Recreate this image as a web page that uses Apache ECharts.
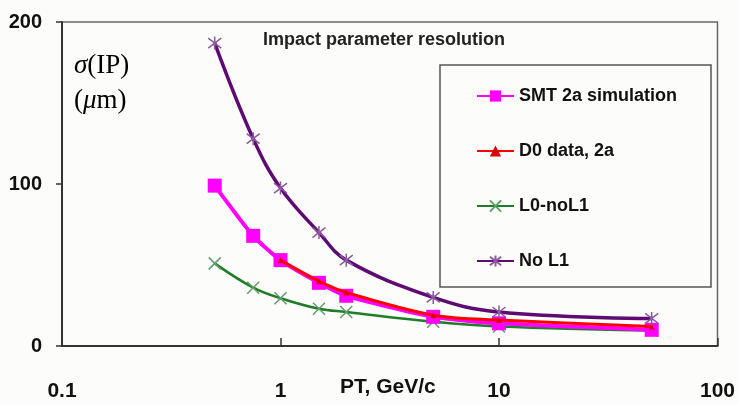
<!DOCTYPE html>
<html>
<head>
<meta charset="utf-8">
<script src="https://cdn.jsdelivr.net/npm/echarts@6/dist/echarts.min.js"></script>
<style>
  html, body { margin: 0; padding: 0; background: #fcfcfa; }
  #chart { width: 738px; height: 405px; }
</style>
</head>
<body>
<div id="chart"></div>
<script>
// momentum points (GeV/c)
const ptValues = [0.5, 0.75, 1, 1.5, 2, 5, 10, 50];
const ptD0 = [1, 1.5, 2, 5, 10, 50];

// impact parameter resolution (um)
const smtSim = [99, 68, 53, 39, 31, 18, 14, 10];
const d0Data = [53, 40, 33, 19, 16, 12];
const l0NoL1 = [51, 36, 29.5, 23, 21, 15, 12, 9.5];
const noL1 = [187, 128, 97.5, 70, 53, 30, 21, 17];

const xTicks = [0.1, 1, 10, 100];
const yTicks = [0, 100, 200];

const FONT = "'Liberation Sans', Arial, sans-serif";
const SERIF = "'Liberation Serif', 'Times New Roman', serif";

const pair = (xs, ys) => xs.map((x, i) => [x, ys[i]]);

const asterisk = "path://M0,0L10,10M10,0L0,10M5,-1.5L5,11.5";
const cross = "path://M0,0L10,10M10,0L0,10";

const chart = echarts.init(document.getElementById("chart"));

const option = {
  backgroundColor: "#fcfcfa",
  animation: false,
  grid: {
    left: 62,
    top: 22,
    right: 20,
    bottom: 59,
    show: true,
    borderColor: "#666",
    borderWidth: 1.5,
  },
  title: {
    text: "Impact parameter resolution",
    left: 263,
    top: 31,
    padding: 0,
    textStyle: {
      fontFamily: FONT,
      fontSize: 18,
      fontWeight: "bold",
      color: "#222",
    },
  },
  legend: {
    orient: "vertical",
    left: 476,
    top: 87,
    padding: 0,
    itemGap: 37,
    itemWidth: 37,
    itemHeight: 14,
    data: ["SMT 2a simulation", "D0 data, 2a", "L0-noL1", "No L1"],
    textStyle: {
      fontFamily: FONT,
      fontSize: 18,
      lineHeight: 18,
      fontWeight: "bold",
      color: "#111",
    },
  },
  xAxis: {
    type: "log",
    logBase: 10,
    min: 0.1,
    max: 100,
    axisLine: { lineStyle: { color: "#333", width: 2 } },
    axisTick: { show: true, inside: true, length: 8, lineStyle: { color: "#333", width: 1.5 } },
    minorTick: { show: false },
    splitLine: { show: false },
    axisLabel: {
      margin: 35,
      fontFamily: FONT,
      fontSize: 21,
      fontWeight: "bold",
      color: "#111",
      formatter: (v) => (xTicks.some((t) => Math.abs(t - v) < 1e-6) ? String(v) : ""),
    },
  },
  yAxis: {
    type: "value",
    min: 0,
    max: 200,
    interval: 100,
    axisLine: { show: true, lineStyle: { color: "#333", width: 2 } },
    axisTick: { show: true, length: 6, lineStyle: { color: "#333", width: 1.5 } },
    splitLine: { show: false },
    axisLabel: {
      margin: 20,
      fontFamily: FONT,
      fontSize: 20,
      fontWeight: "bold",
      color: "#111",
      formatter: (v) => (yTicks.includes(v) ? String(v) : ""),
    },
  },
  graphic: [
    {
      type: "rect",
      shape: { x: 440, y: 65, width: 271, height: 222 },
      style: { fill: "none", stroke: "#555", lineWidth: 1.5 },
      z: 0,
    },
    {
      type: "text",
      left: 340,
      top: 377,
      style: {
        text: "PT, GeV/c",
        font: "bold 21px " + FONT,
        fill: "#111",
      },
    },
    {
      type: "text",
      left: 74,
      top: 52,
      style: {
        text: "{i|σ}{r|(IP)}\n{r|(}{i|μ}{r|m)}",
        rich: {
          i: { fontFamily: SERIF, fontStyle: "italic", fontSize: 27, fill: "#000", lineHeight: 35 },
          r: { fontFamily: SERIF, fontSize: 27, fill: "#000", lineHeight: 35 },
        },
      },
    },
  ],
  series: [
    {
      name: "L0-noL1",
      type: "line",
      smooth: 0.4,
      data: pair(ptValues, l0NoL1),
      symbol: cross,
      symbolSize: 12,
      lineStyle: { color: "#1e7d26", width: 2.5 },
      itemStyle: { color: "#5f9e6e", borderColor: "#5f9e6e", borderWidth: 1.5 },
      z: 2,
    },
    {
      name: "SMT 2a simulation",
      type: "line",
      smooth: 0.2,
      data: pair(ptValues, smtSim),
      symbol: "rect",
      symbolSize: 14,
      lineStyle: { color: "#ff00ff", width: 4 },
      itemStyle: { color: "#ff00ff" },
      z: 3,
    },
    {
      name: "D0 data, 2a",
      type: "line",
      smooth: 0.3,
      data: pair(ptD0, d0Data),
      symbol: "triangle",
      symbolSize: 6,
      lineStyle: { color: "#ff0000", width: 3 },
      itemStyle: { color: "#e00000" },
      z: 4,
    },
    {
      name: "No L1",
      type: "line",
      smooth: 0.4,
      data: pair(ptValues, noL1),
      symbol: asterisk,
      symbolSize: 13,
      lineStyle: { color: "#5e0a72", width: 3.5 },
      itemStyle: { color: "#8d5aa0", borderColor: "#8d5aa0", borderWidth: 1.5 },
      z: 5,
    },
  ],
};

chart.setOption(option);
</script>
</body>
</html>
